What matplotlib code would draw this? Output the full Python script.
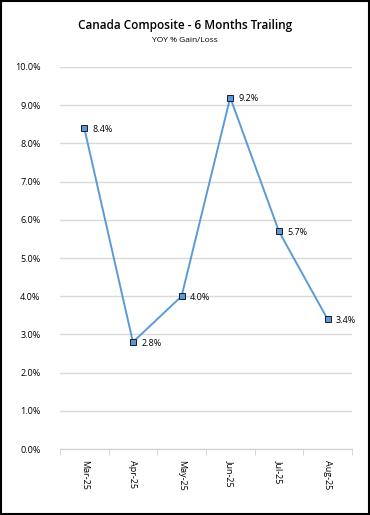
import matplotlib as mpl
mpl.use('Agg')
import matplotlib.pyplot as plt
import numpy as np

months = ["Mar-25", "Apr-25", "May-25", "Jun-25", "Jul-25", "Aug-25"]
gain = [8.4, 2.8, 4.0, 9.2, 5.7, 3.4]

plt.rcParams['font.family'] = ['Open Sans', 'DejaVu Sans']

fig = plt.figure(figsize=(3.7, 5.15), dpi=100)
ax = fig.add_axes([0.162, 0.128, 0.789, 0.742])

x = np.arange(len(months))
ax.plot(x, gain, '-', color='#5B9BD5', linewidth=1.4, zorder=3)
ax.plot(x, gain, 's', markersize=4.5, markerfacecolor='#5B9BD5',
        markeredgecolor='#1a1a2e', markeredgewidth=0.7, zorder=4)
for xi, v in zip(x, gain):
    ax.annotate(f"{v:.1f}%", (xi, v), xytext=(6, -1), textcoords='offset points',
                fontsize=6.5, va='center', ha='left')

ax.set_ylim(0, 10)
ax.set_yticks(np.arange(0, 11, 1))
ax.set_yticklabels([f"{t:.1f}%" for t in range(11)], fontsize=6.5)
ax.set_xlim(-0.5, len(months) - 0.5)
ax.set_xticks(x)
ax.set_xticklabels(months, rotation=-90, fontsize=6.5)
ax.set_xticks(np.arange(-0.5, len(months), 1), minor=True)
ax.tick_params(axis='x', which='major', length=0, pad=8)
ax.tick_params(axis='x', which='minor', length=4, color='#d0d0d0')
ax.tick_params(axis='y', length=0, pad=14)
ax.grid(axis='y', color='#d9d9d9', linewidth=1)
ax.set_axisbelow(True)
for s in ['top', 'right', 'left']:
    ax.spines[s].set_visible(False)
ax.spines['bottom'].set_color('#d0d0d0')

fig.text(0.5, 0.943, "Canada Composite - 6 Months Trailing", ha='center',
         fontsize=8.5, fontweight='semibold')
fig.text(0.5, 0.918, "YOY % Gain/Loss", ha='center', fontsize=6)

fig.patches.append(mpl.patches.Rectangle((0.002, 0.002), 0.996, 0.996, transform=fig.transFigure,
                                         fill=False, edgecolor='black', linewidth=1.5))

fig.savefig("out.png", dpi=100)
